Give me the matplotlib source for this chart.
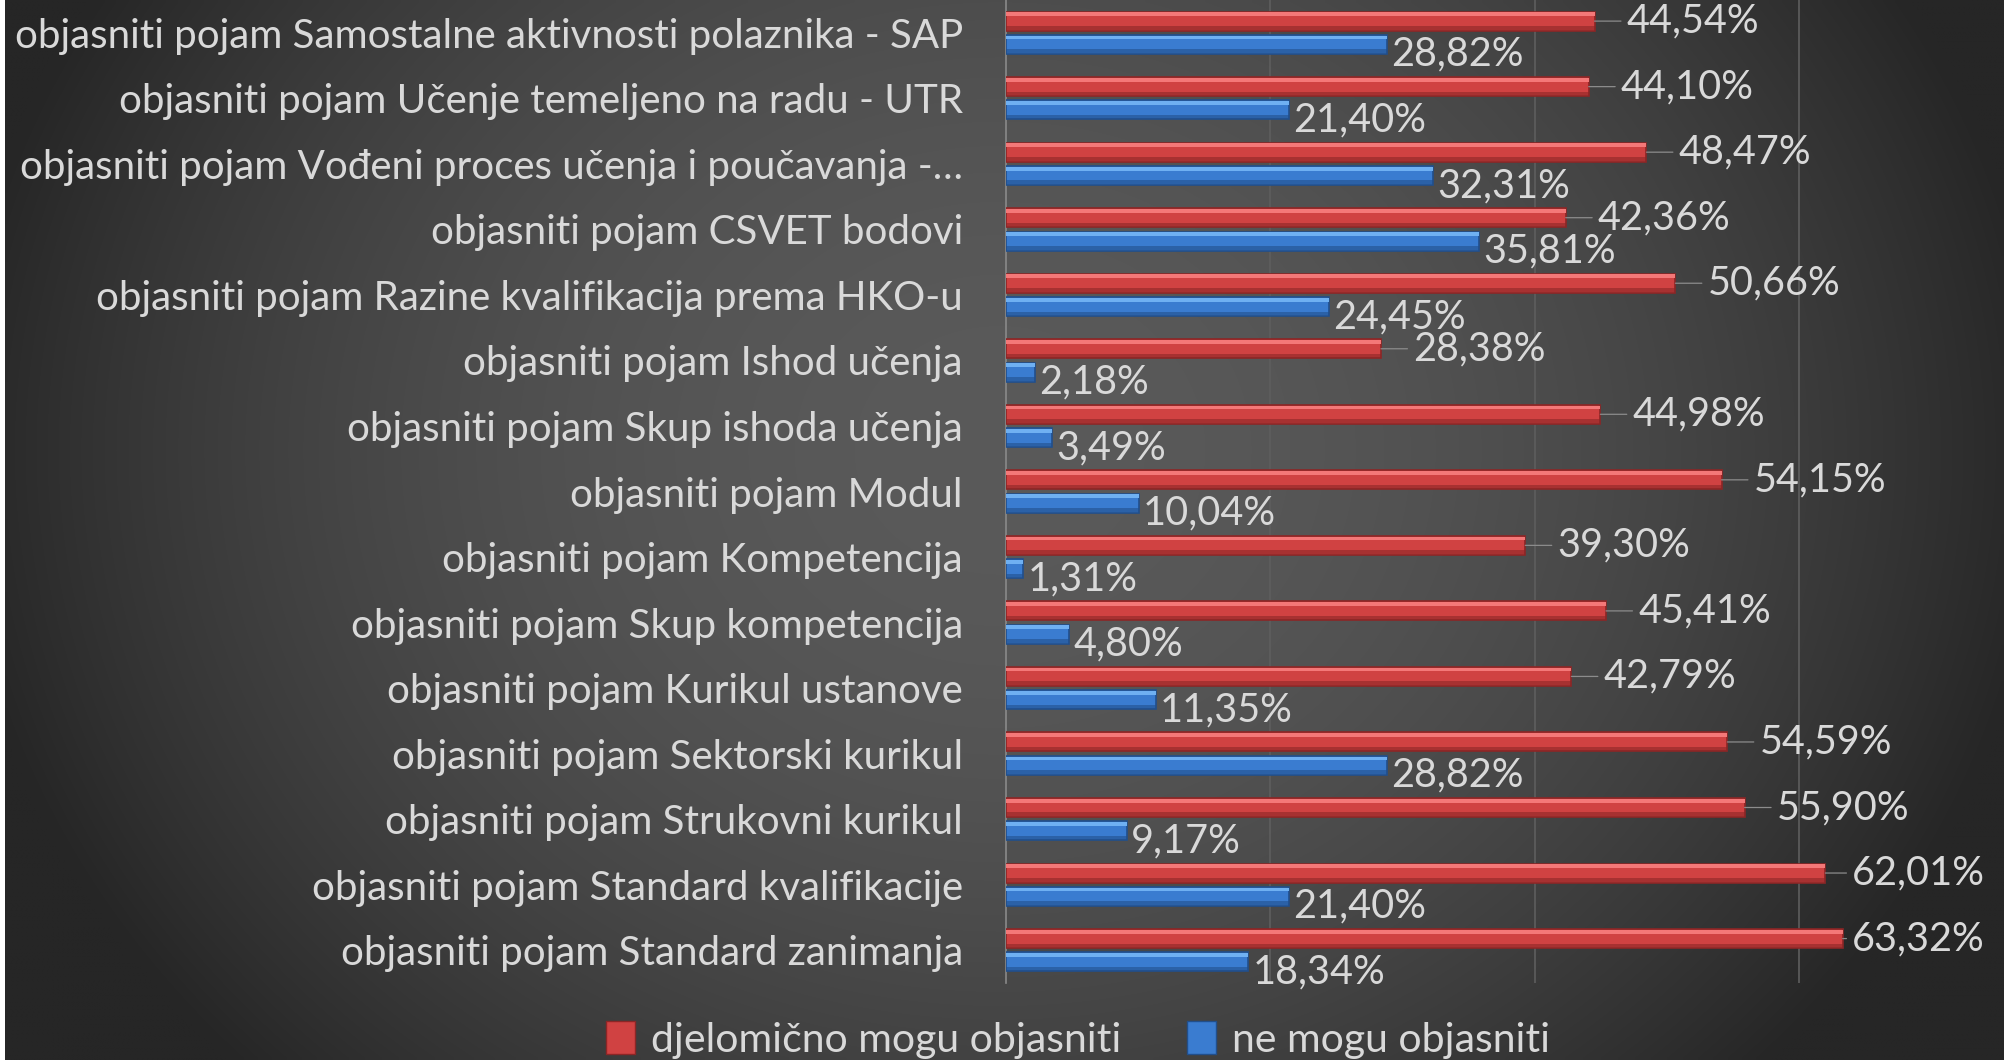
import matplotlib.pyplot as plt
import matplotlib
import numpy as np
from matplotlib.patches import Rectangle

matplotlib.rcParams.update({
    'font.family': ['Lato', 'DejaVu Sans'],
    'text.color': '#d9d9d9',
})

# --- data (top to bottom) ---
categories = [
    'objasniti pojam Samostalne aktivnosti polaznika - SAP',
    'objasniti pojam Učenje temeljeno na radu - UTR',
    'objasniti pojam Vođeni proces učenja i poučavanja -…',
    'objasniti pojam CSVET bodovi',
    'objasniti pojam Razine kvalifikacija prema HKO-u',
    'objasniti pojam Ishod učenja',
    'objasniti pojam Skup ishoda učenja',
    'objasniti pojam Modul',
    'objasniti pojam Kompetencija',
    'objasniti pojam Skup kompetencija',
    'objasniti pojam Kurikul ustanove',
    'objasniti pojam Sektorski kurikul',
    'objasniti pojam Strukovni kurikul',
    'objasniti pojam Standard kvalifikacije',
    'objasniti pojam Standard zanimanja',
]
djelomicno = [44.54, 44.10, 48.47, 42.36, 50.66, 28.38, 44.98, 54.15,
              39.30, 45.41, 42.79, 54.59, 55.90, 62.01, 63.32]
ne_mogu = [28.82, 21.40, 32.31, 35.81, 24.45, 2.18, 3.49, 10.04,
           1.31, 4.80, 11.35, 28.82, 9.17, 21.40, 18.34]
series_names = ['djelomično mogu objasniti', 'ne mogu objasniti']

W, H = 2004, 1060
fig = plt.figure(figsize=(W / 100, H / 100), dpi=100)
fig.patch.set_facecolor('white')

# --- background: dark radial gradient (white sliver on the left edge) ---
bg = fig.add_axes([5 / W, 0, 1 - 5 / W, 1], zorder=-10)
xx, yy = np.meshgrid(np.linspace(5, W, 400), np.linspace(0, H, 220))
r = np.sqrt(((xx - 1000) / 1050) ** 2 + ((yy - 450) / 900) ** 2)
g = (38 + 52 * np.clip(1 - r ** 2, 0, 1)) / 255
bg.imshow(np.dstack([g, g, g]), aspect='auto', extent=[0, 1, 1, 0],
          interpolation='bilinear')
bg.axis('off')

# --- main axes ---
XMAX = 75
ax_left, ax_w = 1006, 991
ax = fig.add_axes([ax_left / W, 1 - 983 / H, ax_w / W, 983 / H])
ax.set_facecolor('none')

y = np.arange(len(categories))
h = 0.29
off = 0.178

def bar3d(ypos, vals, main, light, dark):
    ax.barh(ypos, vals, height=h, color=main, edgecolor=dark,
            linewidth=1.2, zorder=3)
    ax.barh(ypos - h * 0.36, vals, height=h * 0.2, color=light,
            linewidth=0, zorder=4)
    ax.barh(ypos + h * 0.36, vals, height=h * 0.2, color=dark,
            linewidth=0, alpha=0.6, zorder=4)

bar3d(y - off, djelomicno, '#d04242', '#f47878', '#8c2626')
bar3d(y + off, ne_mogu, '#3a7cd0', '#6fb0f2', '#214f8c')

fmt = lambda v: f'{v:.2f}'.replace('.', ',') + '%'

for yi, v in zip(y, djelomicno):
    # keep the label inside the figure, as the spreadsheet did
    end_px = ax_left + v / XMAX * ax_w
    dx = max(8, min(32, W - 152 - end_px))
    ax.annotate(fmt(v), xy=(v, yi - off), xytext=(dx, 0),
                textcoords='offset pixels', ha='left', va='center',
                fontsize=28.5, color='#d9d9d9', zorder=6,
                arrowprops=dict(arrowstyle='-', color='#8c8c8c', lw=0.9,
                                shrinkA=2, shrinkB=0))
for yi, v in zip(y, ne_mogu):
    ax.annotate(fmt(v), xy=(v, yi + off), xytext=(4, -10),
                textcoords='offset pixels', ha='left', va='center',
                fontsize=28.5, color='#d9d9d9', zorder=6)

ax.set_xlim(0, XMAX)
ax.set_ylim(len(categories) - 0.5, -0.5)
ax.set_xticks([20, 40, 60])
ax.grid(axis='x', color='#5e5e5e', linewidth=1.2, zorder=0)
ax.tick_params(axis='x', bottom=False, labelbottom=False)
ax.set_yticks(y)
ax.set_yticklabels(categories, fontsize=29, color='#d9d9d9')
ax.tick_params(axis='y', length=0, pad=31)
for s in ['top', 'right', 'bottom']:
    ax.spines[s].set_visible(False)
ax.spines['left'].set_color('#8a8a8a')
ax.spines['left'].set_linewidth(1.2)

# --- legend ---
handles = [Rectangle((0, 0), 1, 1, facecolor='#d04242', edgecolor='#8c2626'),
           Rectangle((0, 0), 1, 1, facecolor='#3a7cd0', edgecolor='#214f8c')]
fig.legend(handles, series_names, loc='center',
           bbox_to_anchor=(1078 / W, 1 - 1040 / H), ncol=2, frameon=False,
           fontsize=29.5, labelcolor='#d9d9d9', handlelength=0.7,
           handleheight=0.85, handletextpad=0.4, columnspacing=1.6)

fig.savefig('out.png', dpi=100, facecolor=fig.get_facecolor())
